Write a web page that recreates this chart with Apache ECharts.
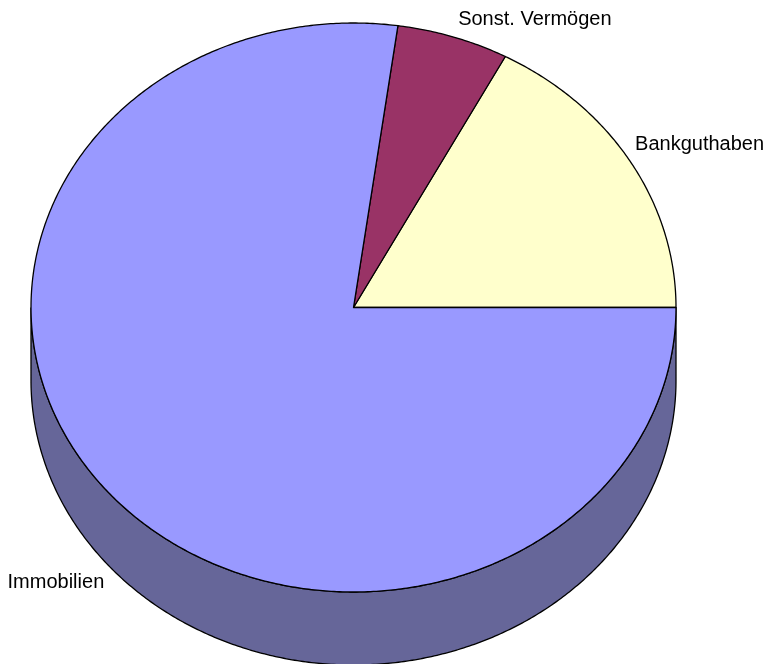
<!DOCTYPE html>
<html>
<head>
<meta charset="utf-8">
<script src="https://cdn.jsdelivr.net/npm/echarts@6/dist/echarts.min.js"></script>
<style>
  html, body { margin: 0; padding: 0; background: #fff; }
  #main { width: 769px; height: 664px; }
</style>
</head>
<body>
<div id="main"></div>
<script>
// Daten (Anteile in %)
const categories = ['Bankguthaben', 'Sonst. Vermögen', 'Immobilien'];
const values = [17.2, 5.6, 77.2];

// Farben (Excel-Palette)
const topColors = ['#FFFFCC', '#993366', '#9999FF'];
const sideColors = ['#999966', '#5C1F3D', '#666699'];

// Geometrie der 3D-Torte
const cx = 353.5, cy = 307.5, rx = 322.5, ry = 284.5, depth = 73;

const total = values.reduce((a, b) => a + b, 0);
const starts = [];
let acc = 0;
values.forEach(v => { starts.push(acc / total * 360); acc += v; });

function pt(deg, dy) {
  const t = deg * Math.PI / 180;
  return [cx + rx * Math.cos(t), cy - ry * Math.sin(t) + (dy || 0)];
}

function arcPoints(a1, a2, dy) {
  const pts = [];
  const n = Math.max(2, Math.ceil((a2 - a1) / 0.5));
  for (let i = 0; i <= n; i++) pts.push(pt(a1 + (a2 - a1) * i / n, dy));
  return pts;
}

// Seitenwand (nur vorderer Teil 180°..360° sichtbar)
function renderSide(params, api) {
  const i = params.dataIndex;
  const a1 = starts[i];
  const a2 = a1 + api.value(0) / total * 360;
  const s = Math.max(a1, 180), e = Math.min(a2, 360);
  if (e <= s) return null;
  const top = arcPoints(s, e, 0);
  const bottom = arcPoints(s, e, depth).reverse();
  return {
    type: 'polygon',
    shape: { points: top.concat(bottom) },
    style: { fill: sideColors[i], stroke: '#000', lineWidth: 1.3 }
  };
}

// Deckfläche + Beschriftung
function renderTop(params, api) {
  const i = params.dataIndex;
  const a1 = starts[i];
  const a2 = a1 + api.value(0) / total * 360;
  const pts = [[cx, cy]].concat(arcPoints(a1, a2, 0));
  const mid = (a1 + a2) / 2;
  const t = mid * Math.PI / 180;
  const c = Math.cos(t), s = Math.sin(t);
  const anchor = pt(mid, s < 0 ? depth : 0);
  const lx = anchor[0] + (c >= 0 ? 5 : -6);
  const ly = anchor[1] + (s >= 0 ? -17 : 15);
  return {
    type: 'group',
    children: [
      {
        type: 'polygon',
        shape: { points: pts },
        style: { fill: topColors[i], stroke: '#000', lineWidth: 1.3, lineJoin: 'round' }
      },
      {
        type: 'text',
        x: lx,
        y: ly,
        style: {
          text: categories[i],
          fill: '#000',
          font: '20px "Liberation Sans", Arial, sans-serif',
          align: c >= 0 ? 'left' : 'right',
          verticalAlign: 'middle'
        }
      }
    ]
  };
}

const chart = echarts.init(document.getElementById('main'));
chart.setOption({
  animation: false,
  backgroundColor: '#fff',
  series: [
    {
      type: 'custom',
      coordinateSystem: 'none',
      z: 1,
      data: values,
      renderItem: renderSide
    },
    {
      type: 'custom',
      coordinateSystem: 'none',
      z: 2,
      data: values,
      renderItem: renderTop
    }
  ]
});
</script>
</body>
</html>
